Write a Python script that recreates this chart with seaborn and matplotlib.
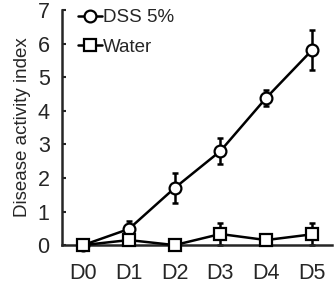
import numpy as np
import pandas as pd
import seaborn as sns
import matplotlib.pyplot as plt

days = ["D0", "D1", "D2", "D3", "D4", "D5"]
dss = [0, 0.48, 1.7, 2.8, 4.38, 5.8]
dss_err = [0, 0.25, 0.45, 0.4, 0.25, 0.6]
water = [0, 0.15, 0, 0.33, 0.15, 0.32]
water_err = [0, 0.12, 0.05, 0.32, 0.1, 0.33]

sns.set_style("ticks")
plt.rcParams['font.family'] = ['Liberation Sans', 'DejaVu Sans']

df = pd.DataFrame({
    "day": list(range(len(days))) * 2,
    "value": dss + water,
    "group": ["DSS 5%"] * len(days) + ["Water"] * len(days),
})

fig = plt.figure(figsize=(3.34, 2.85), dpi=100)
ax = fig.add_axes([0.186, 0.14, 0.808, 0.825])

# error bars first so markers sit on top
x = np.arange(len(days))
ax.errorbar(x, dss, yerr=dss_err, fmt="none", ecolor="black", elinewidth=1.8, capsize=2.5, capthick=1.8, clip_on=False, zorder=2)
ax.errorbar(x, water, yerr=water_err, fmt="none", ecolor="black", elinewidth=1.8, capsize=2.5, capthick=1.8, clip_on=False, zorder=2)

sns.lineplot(data=df, x="day", y="value", hue="group", style="group",
             markers={"DSS 5%": "o", "Water": "s"}, dashes=False,
             palette={"DSS 5%": "black", "Water": "black"},
             linewidth=1.8, markersize=8.5, markerfacecolor="white",
             markeredgecolor="black", markeredgewidth=1.6,
             ax=ax, clip_on=False, zorder=3)

ax.set_xlim(-0.46, 5.44)
ax.set_ylim(0, 7)
ax.set_xticks(x)
ax.set_xticklabels(days)
ax.set_yticks(range(0, 8))
ax.tick_params(axis="x", length=0, labelsize=15.5, pad=13)
ax.tick_params(axis="y", direction="in", length=3, width=1.5, labelsize=15.5, pad=9)
for s in ["top", "right"]:
    ax.spines[s].set_visible(False)
ax.spines["left"].set_linewidth(1.8)
ax.spines["bottom"].set_linewidth(1.8)
ax.set_xlabel("")
ax.set_ylabel("Disease activity index", fontsize=13.5, labelpad=5)

leg = ax.legend(loc="upper left", frameon=False, fontsize=13.5, handlelength=1.3,
                handletextpad=0.05, borderaxespad=0.0, labelspacing=0.65,
                bbox_to_anchor=(0.03, 1.035))
for h in leg.legend_handles:
    h.set_markerfacecolor("white")
    h.set_markeredgecolor("black")

fig.savefig("out.png", dpi=100)
